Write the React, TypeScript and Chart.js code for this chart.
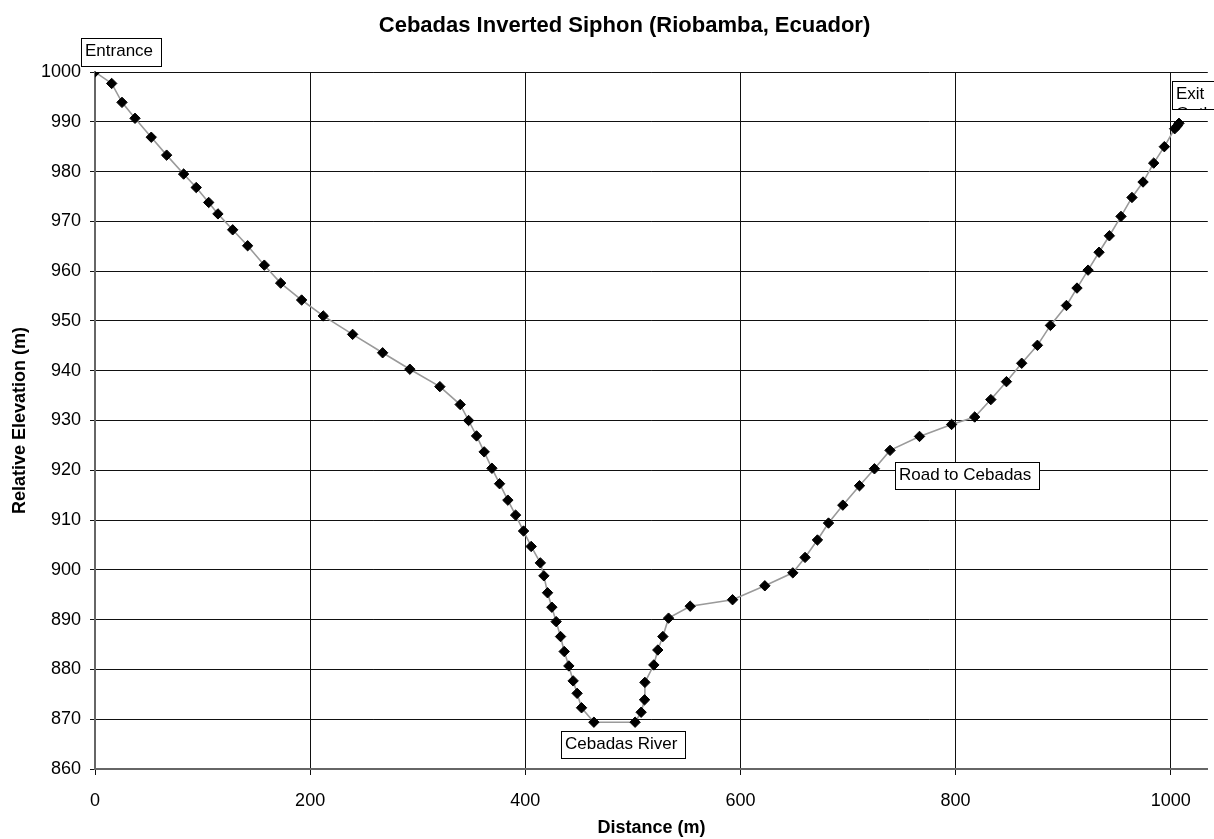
import React, { useEffect, useRef } from "react";
import { Chart, registerables } from "chart.js";

Chart.register(...registerables);

// Distance along the siphon (m)
const distances: number[] = [
  0, 15.5, 25.1, 37.2, 52.3, 66.6, 82.4, 94.1, 105.7, 114.3,
  128.0, 141.9, 157.4, 172.6, 192.1, 212.2, 239.5, 267.4, 292.7, 320.6,
  339.5, 347.3, 354.7, 361.8, 369.0, 376.1, 383.8, 391.0, 398.4, 405.5,
  414.0, 417.3, 420.7, 424.7, 428.7, 432.8, 436.2, 440.5, 444.5, 448.2,
  452.3, 463.8, 502.1, 507.7, 510.9, 511.2, 519.5, 523.2, 527.9, 533.2,
  553.3, 592.7, 622.7, 648.7, 660.1, 671.6, 681.9, 695.2, 710.7, 724.6,
  739.1, 766.5, 796.3, 817.8, 832.8, 847.3, 861.5, 876.1, 888.2, 903.1,
  912.9, 923.2, 933.4, 943.0, 953.8, 964.0, 974.3, 984.2, 994.1, 1003.7,
  1006.2, 1007.7,
];

// Relative elevation (m)
const elevations: number[] = [
  1000, 997.7, 993.9, 990.7, 986.9, 983.3, 979.5, 976.8, 973.8, 971.5,
  968.3, 965.1, 961.2, 957.6, 954.2, 951.0, 947.3, 943.6, 940.3, 936.8,
  933.2, 930.0, 926.9, 923.7, 920.4, 917.3, 914.0, 911.0, 907.8, 904.7,
  901.4, 898.8, 895.4, 892.5, 889.6, 886.6, 883.6, 880.7, 877.7, 875.2,
  872.3, 869.4, 869.4, 871.4, 873.9, 877.4, 880.9, 883.9, 886.6, 890.3,
  892.7, 894.0, 896.8, 899.4, 902.5, 906.0, 909.4, 913.0, 916.9, 920.3,
  924.0, 926.8, 929.2, 930.7, 934.2, 937.8, 941.5, 945.1, 949.1, 953.1,
  956.6, 960.2, 963.8, 967.1, 971.0, 974.8, 977.9, 981.7, 985.0, 988.6,
  989.2, 989.7,
];

// Axis tick values
const xTickValues: number[] = [0, 200, 400, 600, 800, 1000];
const yTickValues: number[] = [860, 870, 880, 890, 900, 910, 920, 930, 940, 950, 960, 970, 980, 990, 1000];

// Point labels (text lines, attached to a data point index)
const labelTexts: string[][] = [["Entrance"], ["Exit", "Outlet"], ["Road to Cebadas"], ["Cebadas River"]];
const labelPointIndex: number[] = [0, distances.length - 1, 60, 42];

const titleText = "Cebadas Inverted Siphon (Riobamba, Ecuador)";
const xTitle = "Distance (m)";
const yTitle = "Relative Elevation (m)";

const FONT = "'Liberation Sans', Arial, sans-serif";

// pixel offsets of label boxes from their anchor points (style only)
const labelStyle = [
  { dx: -14, dy: -34, h: 28, fixedW: 0 },
  { dx: -7, dy: -42.5, h: 28, fixedW: 80 },
  { dx: 4.7, dy: 11.7, h: 27, fixedW: 0 },
  { dx: -74, dy: 8.7, h: 27, fixedW: 0 },
];

const overlayPlugin = {
  id: "overlay",
  afterDraw(chart: any) {
    const { ctx, scales } = chart;
    const xs = scales.x;
    const ys = scales.y;
    ctx.save();
    // title
    ctx.font = `bold 22px ${FONT}`;
    ctx.fillStyle = "#000";
    ctx.textAlign = "center";
    ctx.textBaseline = "alphabetic";
    ctx.fillText(titleText, 624.5, 32);

    // label boxes
    ctx.font = `17px ${FONT}`;
    ctx.textAlign = "left";
    labelTexts.forEach((lines, i) => {
      const idx = labelPointIndex[i];
      const st = labelStyle[i];
      const px = xs.getPixelForValue(distances[idx]);
      const py = ys.getPixelForValue(elevations[idx]);
      const bx = Math.round(px + st.dx) + 0.5;
      const by = Math.round(py + st.dy) + 0.5;
      const tw = ctx.measureText(lines[0]).width;
      const w = st.fixedW || Math.round(tw + 12);
      ctx.fillStyle = "#fff";
      ctx.fillRect(bx, by, w, st.h);
      ctx.save();
      ctx.beginPath();
      ctx.rect(bx, by, w, st.h);
      ctx.clip();
      ctx.fillStyle = "#000";
      lines.forEach((ln, k) => {
        ctx.fillText(ln, bx + 3.5, by + 17 + k * 20);
      });
      ctx.restore();
      ctx.strokeStyle = "#000";
      ctx.lineWidth = 1;
      ctx.strokeRect(bx, by, w, st.h);
    });
    ctx.restore();
  },
};

export default function App() {
  const ref = useRef<HTMLCanvasElement | null>(null);

  useEffect(() => {
    document.body.style.margin = "0";
    const canvas = ref.current;
    if (!canvas) return;
    const points = distances.map((d, i) => ({ x: d, y: elevations[i] }));
    const chart = new Chart(canvas, {
      type: "scatter",
      data: {
        datasets: [
          {
            label: "Profile",
            data: points,
            showLine: true,
            borderColor: "#9a9a9a",
            borderWidth: 1.6,
            pointStyle: "rectRot",
            pointRadius: 5.2,
            pointBackgroundColor: "#000",
            pointBorderColor: "#000",
            pointBorderWidth: 1,
            tension: 0,
          },
        ],
      },
      options: {
        responsive: false,
        animation: false,
        devicePixelRatio: 1,
        layout: { padding: { top: 72, left: 0, right: 0, bottom: 0 } },
        plugins: {
          legend: { display: false },
          title: { display: false },
          tooltip: { enabled: false },
        },
        scales: {
          x: {
            type: "linear",
            min: 0,
            max: 1034.5,
            afterFit: (s: any) => {
              s.height = 70;
            },
            afterBuildTicks: (s: any) => {
              s.ticks = xTickValues.map((v) => ({ value: v }));
            },
            ticks: {
              padding: 15,
              color: "#000",
              font: { family: FONT, size: 18 },
              maxRotation: 0,
              autoSkip: false,
              callback: (v: any) => String(v),
            },
            grid: { color: "#111", lineWidth: 1, tickLength: 6 },
            border: { color: "#666", width: 2 },
            title: {
              display: true,
              text: xTitle,
              color: "#000",
              font: { family: FONT, size: 18, weight: "bold" },
              padding: { top: 0, bottom: 0 },
            },
          },
          y: {
            type: "linear",
            min: 860,
            max: 1000,
            afterFit: (s: any) => {
              s.width = 95;
            },
            afterBuildTicks: (s: any) => {
              s.ticks = yTickValues.map((v) => ({ value: v }));
            },
            ticks: {
              padding: 9,
              color: "#000",
              autoSkip: false,
              font: { family: FONT, size: 18 },
              callback: (v: any) => String(v),
            },
            grid: { color: "#111", lineWidth: 1, tickLength: 5 },
            border: { color: "#666", width: 2 },
            title: {
              display: true,
              text: yTitle,
              color: "#000",
              font: { family: FONT, size: 18, weight: "bold" },
              padding: { top: 9, bottom: 0 },
            },
          },
        },
      },
      plugins: [overlayPlugin],
    });
    return () => chart.destroy();
  }, []);

  return (
    <div style={{ position: "fixed", left: 0, top: 0, width: 1214, height: 839, background: "#fff" }}>
      <canvas ref={ref} width={1214} height={839} />
    </div>
  );
}
